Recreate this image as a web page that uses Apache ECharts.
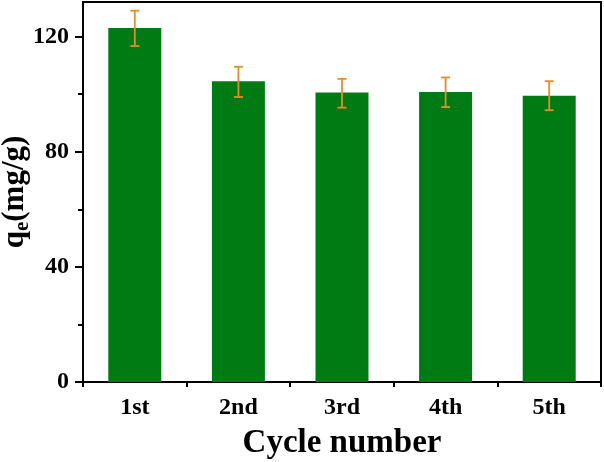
<!DOCTYPE html>
<html>
<head>
<meta charset="utf-8">
<script src="https://cdn.jsdelivr.net/npm/echarts@6/dist/echarts.min.js"></script>
<style>
  html, body { margin: 0; padding: 0; background: #fff; }
  #chart { width: 604px; height: 462px; }
</style>
</head>
<body>
<div id="chart"></div>
<script>
// cycles and adsorption capacity
const cycles = ['1st', '2nd', '3rd', '4th', '5th'];
const qe = [123.0, 104.5, 100.6, 100.7, 99.4];
const errLow = [116.7, 99.0, 95.3, 95.5, 94.4];
const errHigh = [129.0, 109.5, 105.3, 105.8, 104.5];
const majorTicks = [0, 40, 80, 120];
const minorTicks = [20, 60, 100];

const serif = '"Liberation Serif", "Times New Roman", serif';

let chart = echarts.init(document.getElementById('chart'));

let option = {
  animation: false,
  grid: {
    left: 83,
    right: 3,
    top: 2,
    bottom: 80,
    containLabel: false,
    outerBoundsMode: 'none',
    show: true,
    borderColor: '#000',
    borderWidth: 2
  },
  xAxis: [{
    type: 'category',
    data: cycles,
    axisLine: { lineStyle: { color: '#000', width: 2 } },
    axisTick: { alignWithLabel: true, length: 8, lineStyle: { color: '#000', width: 2 } },
    axisLabel: { color: '#000', fontFamily: serif, fontWeight: 'bold', fontSize: 24, margin: 14 },
    name: 'Cycle number',
    nameLocation: 'middle',
    nameGap: 45,
    nameMoveOverlap: false,
    nameTextStyle: { color: '#000', fontFamily: serif, fontWeight: 'bold', fontSize: 33 }
  }, {
    // boundary ticks between categories
    type: 'category',
    data: cycles,
    position: 'bottom',
    axisLine: { show: true, lineStyle: { color: '#000', width: 2 } },
    axisTick: { show: true, alignWithLabel: false, interval: 0, length: 5, lineStyle: { color: '#000', width: 2 } },
    axisLabel: { show: false }
  }],
  yAxis: [{
    type: 'value',
    min: 0,
    max: 132,
    interval: 40,
    splitLine: { show: false },
    axisLine: { show: true, lineStyle: { color: '#000', width: 2 } },
    axisTick: { show: true, length: 8, customValues: majorTicks, lineStyle: { color: '#000', width: 2 } },
    axisLabel: { customValues: majorTicks, color: '#000', fontFamily: serif, fontWeight: 'bold', fontSize: 24, margin: 14 },
    name: '{q|q}{sub|e}{q|(mg/g)}',
    nameLocation: 'middle',
    nameGap: 50,
    nameMoveOverlap: false,
    nameTextStyle: {
      rich: {
        q: { color: '#000', fontFamily: serif, fontWeight: 'bold', fontSize: 31, lineHeight: 34 },
        sub: { color: '#000', fontFamily: serif, fontWeight: 'bold', fontSize: 21, verticalAlign: 'top', padding: [15, 0, 0, 0] }
      }
    }
  }, {
    type: 'value',
    min: 0,
    max: 132,
    position: 'left',
    splitLine: { show: false },
    axisLine: { show: false },
    axisTick: { show: true, length: 5, customValues: minorTicks, lineStyle: { color: '#000', width: 2 } },
    axisLabel: { show: false, customValues: minorTicks }
  }],
  series: [{
    type: 'bar',
    data: qe,
    barWidth: 53,
    itemStyle: { color: '#007a12' }
  }, {
    type: 'custom',
    data: cycles.map((c, i) => [i, errLow[i], errHigh[i]]),
    z: 10,
    renderItem(params, api) {
      let top = api.coord([api.value(0), api.value(2)]);
      let bot = api.coord([api.value(0), api.value(1)]);
      let w = 4.5;
      let style = { stroke: '#e88d22', lineWidth: 1.8 };
      return {
        type: 'group',
        children: [
          { type: 'line', shape: { x1: top[0], y1: top[1], x2: bot[0], y2: bot[1] }, style },
          { type: 'line', shape: { x1: top[0] - w, y1: top[1], x2: top[0] + w, y2: top[1] }, style },
          { type: 'line', shape: { x1: bot[0] - w, y1: bot[1], x2: bot[0] + w, y2: bot[1] }, style }
        ]
      };
    }
  }]
};

chart.setOption(option);
</script>
</body>
</html>
